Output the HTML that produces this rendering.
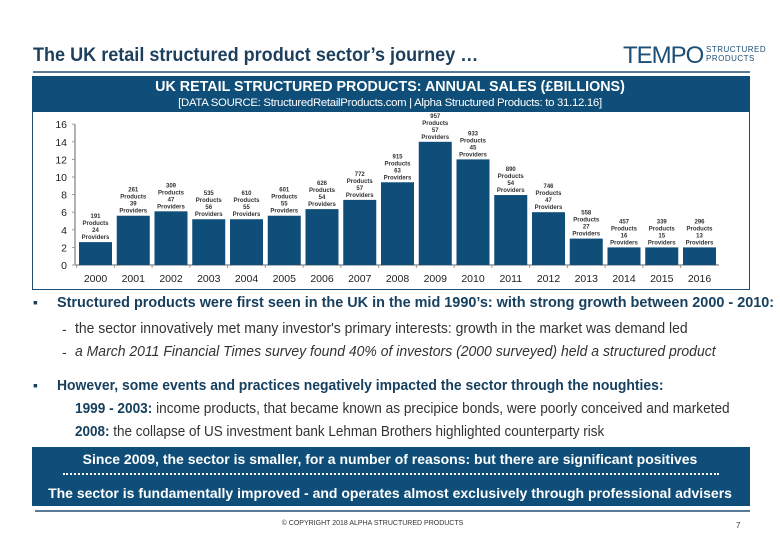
<!DOCTYPE html>
<html><head><meta charset="utf-8">
<style>
body{margin:0;width:780px;height:540px;background:#fff;position:relative;overflow:hidden;font-family:"Liberation Sans",Arial,sans-serif;}
.a{position:absolute;white-space:nowrap;transform-origin:left top;}
.blue{color:#17405f;}
.n{color:#333;}
</style></head><body>
<div class="a blue" style="left:33px;top:45px;font-size:19px;font-weight:bold;transform:scaleX(0.95);color:#1d3f5e">The UK retail structured product sector’s journey …</div>
<div class="a" style="left:623px;top:42px;font-size:24px;color:#1d4e75;letter-spacing:-1px">TEMPO</div>
<div class="a" style="left:706px;top:45px;font-size:8px;line-height:9px;color:#1d4e75;letter-spacing:0.5px">STRUCTURED<br>PRODUCTS</div>
<div class="a" style="left:33px;top:71px;width:717px;height:2px;background:#5a7a96"></div>
<div class="a" style="left:32px;top:76px;width:718px;height:36px;background:#0f4e78"></div>
<div class="a" style="left:0;width:780px;top:79px;text-align:center;color:#fff;font-size:14.3px;font-weight:bold">UK RETAIL STRUCTURED PRODUCTS: ANNUAL SALES (£BILLIONS)</div>
<div class="a" style="left:0;width:780px;top:97px;text-align:center;color:#fff;font-size:11.4px;letter-spacing:-0.3px">[DATA SOURCE: StructuredRetailProducts.com | Alpha Structured Products: to 31.12.16]</div>
<div class="a" style="left:32px;top:112px;width:716px;height:177px;border:1px solid #1d4e75;border-top:none"></div>
<svg class="a" id="chart" style="left:0;top:0" width="780" height="300"></svg>

<div class="a" style="left:33px;top:294px;font-size:14px;color:#17405f">▪</div>
<div class="a blue" style="left:57px;top:294px;font-size:15px;font-weight:bold;transform:scaleX(0.962)">Structured products were first seen in the UK in the mid 1990’s: with strong growth between 2000 - 2010:</div>
<div class="a n" style="left:62px;top:321px;font-size:14px">-</div>
<div class="a n" style="left:75px;top:321px;font-size:14.5px;transform:scaleX(0.963)">the sector innovatively met many investor's primary interests: growth in the market was demand led</div>
<div class="a n" style="left:62px;top:344px;font-size:14px">-</div>
<div class="a n" style="left:75px;top:344px;font-size:14.5px;font-style:italic;transform:scaleX(0.964)">a March 2011 Financial Times survey found 40% of investors (2000 surveyed) held a structured product</div>
<div class="a" style="left:33px;top:377px;font-size:14px;color:#17405f">▪</div>
<div class="a blue" style="left:57px;top:377px;font-size:15px;font-weight:bold;transform:scaleX(0.928)">However, some events and practices negatively impacted the sector through the noughties:</div>
<div class="a n" style="left:75px;top:401px;font-size:14.5px;transform:scaleX(0.94)"><b class="blue">1999 - 2003:</b> income products, that became known as precipice bonds, were poorly conceived and marketed</div>
<div class="a n" style="left:75px;top:424px;font-size:14.5px;transform:scaleX(0.93)"><b class="blue">2008:</b> the collapse of US investment bank Lehman Brothers highlighted counterparty risk</div>

<div class="a" style="left:32px;top:447px;width:718px;height:59px;background:#0f4e78"></div>
<div class="a" style="left:0;width:780px;top:451px;text-align:center;color:#fff;font-size:14px;font-weight:bold">Since 2009, the sector is smaller, for a number of reasons: but there are significant positives</div>
<div class="a" style="left:63px;width:656px;border-top:2px dotted #fff;top:473px"></div>
<div class="a" style="left:0;width:780px;top:485px;text-align:center;color:#fff;font-size:14px;font-weight:bold">The sector is fundamentally improved - and operates almost exclusively through professional advisers</div>
<div class="a" style="left:35px;top:510px;width:715px;height:2px;background:#5a7a96"></div>
<div class="a" style="left:0;width:745px;top:520px;text-align:center;color:#333;font-size:7px">© COPYRIGHT 2018 ALPHA STRUCTURED PRODUCTS</div>
<div class="a" style="left:736px;top:521px;color:#333;font-size:8px">7</div>

<script>
const years = ["2000","2001","2002","2003","2004","2005","2006","2007","2008","2009","2010","2011","2012","2013","2014","2015","2016"];
const sales = [2.6,5.6,6.1,5.2,5.2,5.6,6.35,7.4,9.4,14.0,12.0,7.95,6.0,3.0,2.0,2.0,2.0];
const products = [191,261,309,535,610,601,626,772,915,957,933,890,746,558,457,339,296];
const providers = [24,39,47,56,55,55,54,57,63,57,45,54,47,27,16,15,13];
const yTicks = [0,2,4,6,8,10,12,14,16];

const svg = document.getElementById('chart');
const NS = 'http://www.w3.org/2000/svg';
const y0 = 265, pxPer = 8.8, x0 = 79, step = 37.75, bw = 33;
const yS = v => y0 - v * pxPer;
const xS = i => x0 + i * step;
function mk(tag, attrs, txt){const e=document.createElementNS(NS,tag);for(const k in attrs)e.setAttribute(k,attrs[k]);if(txt!==undefined)e.textContent=txt;svg.appendChild(e);return e;}

const ax = mk('line',{x1:75,y1:yS(16),x2:75,y2:y0,stroke:'#999','stroke-width':1.5});


const bx = mk('line',{x1:75,y1:y0,x2:719,y2:y0,stroke:'#999','stroke-width':1.5});



yTicks.forEach(t=>{
  const l = mk('line',{x1:72,y1:yS(t),x2:75,y2:yS(t),stroke:'#999'});
  
  
  const tx = mk('text',{x:67,y:yS(t)+4,'text-anchor':'end','font-size':10.5,fill:'#222','font-family':'Liberation Sans'},String(t));
  
  
});

years.forEach((yr,i)=>{
  const top = yS(sales[i]);
  const r = mk('rect',{x:xS(i),y:top,width:bw,height:y0-top,fill:'#0f4e78'});
  
  
  const tk = mk('line',{x1:xS(i)-2.4,y1:y0,x2:xS(i)-2.4,y2:y0+3,stroke:'#999'});
  
  
  const yl = mk('text',{x:xS(i)+bw/2,y:282,'text-anchor':'middle','font-size':10.5,fill:'#222','font-family':'Liberation Sans'},yr);
  
  
  const lines = [String(products[i]),'Products',String(providers[i]),'Providers'];
  lines.forEach((s,j)=>{
    const t = mk('text',{x:xS(i)+bw/2,y:top-3-(3-j)*7,'text-anchor':'middle','font-size':6,'font-weight':'bold',fill:'#333','font-family':'Liberation Sans'},s);
    
    
  });
});
</script>
</body></html>
